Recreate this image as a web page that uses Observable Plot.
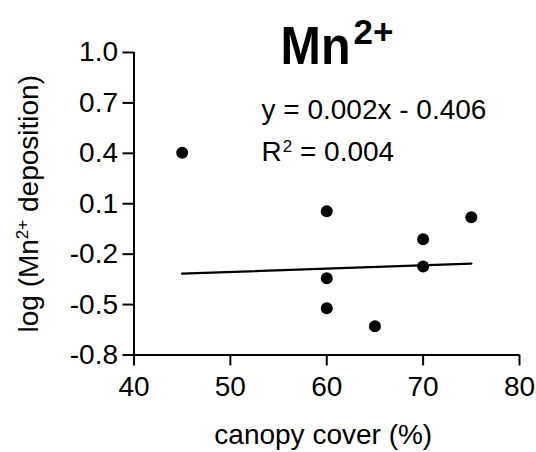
<!DOCTYPE html>
<html>
<head>
<meta charset="utf-8">
<script src="https://cdn.jsdelivr.net/npm/d3@7"></script>
<script src="https://cdn.jsdelivr.net/npm/@observablehq/plot@0.6"></script>
<style>
  html, body { margin: 0; padding: 0; background: #fff; }
  #chart svg [aria-label*="axis"] line,
  #chart svg [aria-label*="axis"] path { stroke-width: 2px; }
</style>
</head>
<body>
<div id="chart"></div>
<script>
// Canopy cover (%) and log Mn2+ deposition at each site
const canopyCover = [45, 60, 60, 60, 65, 70, 70, 75];
const logMn = [0.403, 0.055, -0.343, -0.522, -0.629, -0.111, -0.274, 0.02];

// Axis ticks
const xTicks = [40, 50, 60, 70, 80];
const yTicks = [1.0, 0.7, 0.4, 0.1, -0.2, -0.5, -0.8];

// Linear fit reported on the chart
const slope = 0.002;
const intercept = -0.406;
const rSquared = 0.004;
const fitExtent = [45, 75];

const points = canopyCover.map((x, i) => ({x, y: logMn[i]}));
const fitLine = fitExtent.map(x => ({x, y: slope * x + intercept}));

const titleText = "Mn2+";
const equationText = `y = ${slope.toFixed(3)}x - ${Math.abs(intercept).toFixed(3)}`;
const r2Text = `R2 = ${rSquared.toFixed(3)}`;
const xLabel = "canopy cover (%)";
const yLabel = "log (Mn2+ deposition)";

const chart = Plot.plot({
  width: 536,
  height: 452,
  marginLeft: 133.5,
  marginRight: 17,
  marginTop: 52,
  marginBottom: 97.5,
  style: {
    fontFamily: "'Liberation Sans', Arial, Helvetica, sans-serif",
    fontSize: "28px",
    background: "#fff",
    color: "#000",
    overflow: "visible"
  },
  x: {domain: [40, 80], ticks: xTicks, tickSize: 11, tickPadding: 10, tickFormat: d => String(d), label: null},
  y: {domain: [-0.8, 1.0], ticks: yTicks, tickSize: 11, tickPadding: 5, tickFormat: d => d.toFixed(1), label: null},
  marks: [
    Plot.ruleX([40], {stroke: "#000", strokeWidth: 2}),
    Plot.ruleY([-0.8], {stroke: "#000", strokeWidth: 2}),
    Plot.line(fitLine, {x: "x", y: "y", stroke: "#000", strokeWidth: 2.4}),
    Plot.dot(points, {x: "x", y: "y", r: 6, fill: "#000", stroke: null}),
    Plot.text([titleText], {text: d => d, frameAnchor: "top-left", textAnchor: "start", lineAnchor: "bottom",
      dx: 146.5, dy: 11.5, fontSize: 54, fontWeight: "bold", fill: "#000"}),
    Plot.text([equationText], {text: d => d, frameAnchor: "top-left", textAnchor: "start", lineAnchor: "bottom",
      dx: 127.5, dy: 66, fontSize: 28, fill: "#000"}),
    Plot.text([r2Text], {text: d => d, frameAnchor: "top-left", textAnchor: "start", lineAnchor: "bottom",
      dx: 127.5, dy: 108, fontSize: 28, fill: "#000"}),
    Plot.text([xLabel], {text: d => d, frameAnchor: "bottom", textAnchor: "middle", lineAnchor: "bottom",
      dx: -3.5, dy: 88.5, fontSize: 28, fill: "#000"}),
    Plot.text([yLabel], {text: d => d, frameAnchor: "left", textAnchor: "middle", lineAnchor: "bottom",
      rotate: -90, dx: -96.5, dy: 0, fontSize: 28, fill: "#000"})
  ]
});

document.getElementById("chart").appendChild(chart);

// Rebuild a text element's content with superscript runs
function setRichText(content, parts) {
  const t = Array.from(chart.querySelectorAll("text")).find(el => el.textContent === content);
  if (!t) return;
  while (t.firstChild) t.removeChild(t.firstChild);
  let offset = 0;
  parts.forEach((p, i) => {
    const ts = document.createElementNS("http://www.w3.org/2000/svg", "tspan");
    ts.textContent = p.text;
    const target = -(p.rise || 0);
    if (i > 0 && target !== offset) ts.setAttribute("dy", target - offset);
    offset = target;
    if (p.size) ts.setAttribute("font-size", p.size);
    if (p.dx) ts.setAttribute("dx", p.dx);
    if (p.length) {
      ts.setAttribute("textLength", p.length);
      ts.setAttribute("lengthAdjust", "spacingAndGlyphs");
    }
    t.appendChild(ts);
  });
}

setRichText(titleText, [{text: "Mn", length: 70}, {text: "2+", rise: 20, size: 35, dx: 3}]);
setRichText(r2Text, [{text: "R"}, {text: "2", rise: 8.5, size: 17, dx: 1}, {text: ` = ${rSquared.toFixed(3)}`}]);
setRichText(yLabel, [{text: "log (Mn"}, {text: "2+", rise: 10, size: 17}, {text: " deposition)"}]);
</script>
</body>
</html>
